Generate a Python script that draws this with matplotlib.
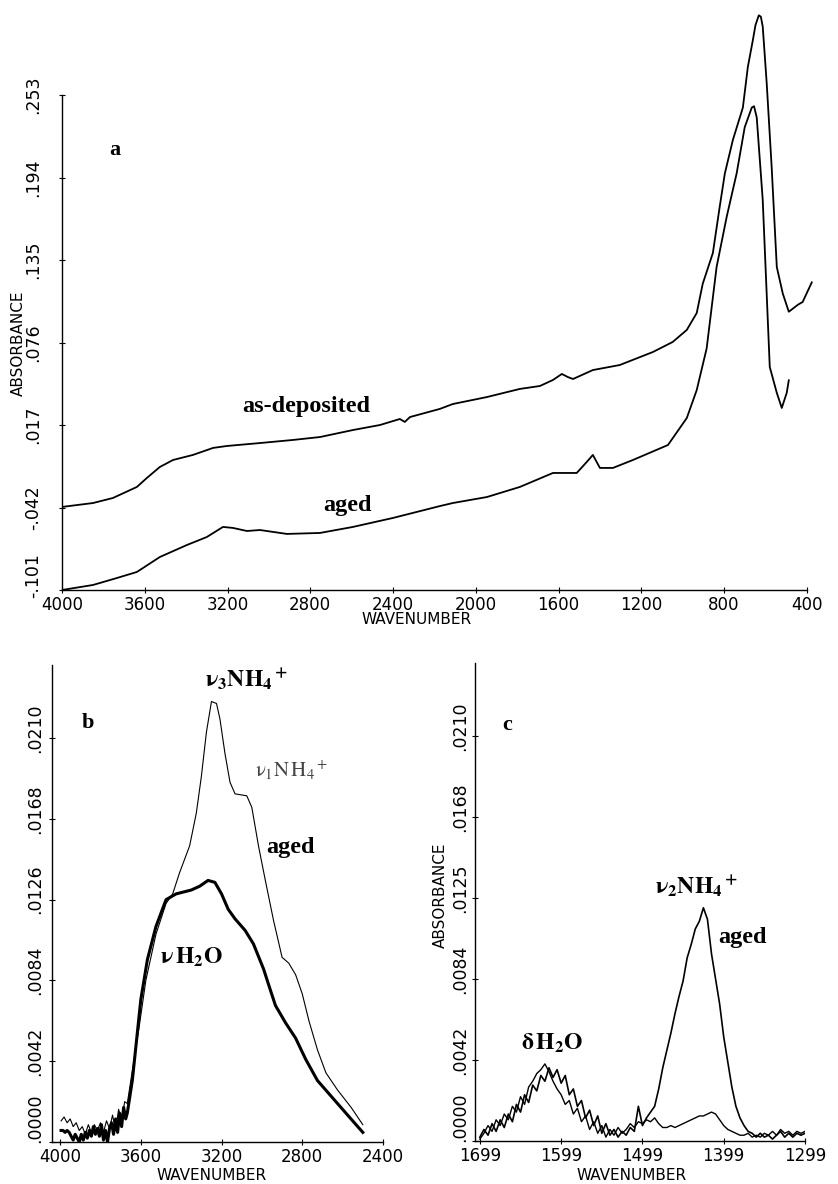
import numpy as np
import matplotlib
matplotlib.use("Agg")
import matplotlib.pyplot as plt
from matplotlib.transforms import ScaledTranslation

plt.rcParams['mathtext.fontset'] = 'stix'

W, H = 838, 1184

# ---------------- panel a : 4000-400 cm-1 ----------------
a_dep_wn = [4000, 3850, 3754, 3638, 3590, 3527, 3463, 3367, 3270, 3203,
            3043, 2884, 2753, 2594, 2463, 2367, 2343, 2318, 2174, 2111,
            1946, 1787, 1690, 1627, 1584, 1555, 1530, 1434, 1304, 1144,
            1048, 980, 932, 903, 854, 821, 796, 757, 709, 685,
            661, 648, 632, 622, 613, 594, 570, 545, 516, 487, 443, 420, 376]
a_dep_abs = [-0.0416, -0.0388, -0.0352, -0.0273, -0.0209, -0.0130, -0.0080, -0.0044, 0.0006, 0.0020,
             0.0041, 0.0063, 0.0084, 0.0134, 0.0170, 0.0213, 0.0192, 0.0227, 0.0285, 0.0320,
             0.0370, 0.0428, 0.0449, 0.0492, 0.0535, 0.0513, 0.0499, 0.0563, 0.0599, 0.0692,
             0.0764, 0.0850, 0.0971, 0.118, 0.140, 0.173, 0.197, 0.221, 0.244, 0.273,
             0.292, 0.303, 0.310, 0.309, 0.302, 0.262, 0.202, 0.130, 0.111, 0.098, 0.103, 0.105, 0.119]

a_aged_wn = [4000, 3850, 3734, 3638, 3527, 3396, 3300, 3222, 3174, 3106,
             3043, 2913, 2753, 2594, 2401, 2174, 2111, 1946, 1787, 1627,
             1512, 1464, 1434, 1400, 1337, 1240, 1071, 980, 932, 884,
             836, 787, 739, 700, 666, 655, 642, 613, 579, 545, 521, 497, 487]
a_aged_abs = [-0.101, -0.0974, -0.0924, -0.0881, -0.0774, -0.0688, -0.0631, -0.0559, -0.0566, -0.0588,
              -0.0581, -0.0609, -0.0602, -0.0559, -0.0495, -0.0410, -0.0388, -0.0345, -0.0273, -0.0173,
              -0.0173, -0.0095, -0.0044, -0.0137, -0.0137, -0.0080, 0.0027, 0.0220, 0.0420, 0.0718,
              0.130, 0.166, 0.197, 0.230, 0.244, 0.245, 0.237, 0.178, 0.0585, 0.040, 0.0292, 0.040, 0.049]

a_yticks = [-0.101, -0.042, 0.017, 0.076, 0.135, 0.194, 0.253]
a_ylabels = ['-.101', '-.042', '.017', '.076', '.135', '.194', '.253']
a_xticks = [4000, 3600, 3200, 2800, 2400, 2000, 1600, 1200, 800, 400]

# ---------------- panel b : O-H / N-H stretch ----------------
b_dep_wn = [3995, 3985, 3975, 3965, 3955, 3945, 3935, 3925, 3915, 3905,
            3895, 3885, 3875, 3865, 3855, 3845, 3835, 3825, 3815, 3805,
            3795, 3785, 3775, 3765, 3755, 3745, 3735, 3725, 3715, 3705,
            3695, 3685, 3675,
            3667, 3642, 3600, 3567, 3525, 3475, 3425, 3350, 3308, 3267,
            3233, 3200, 3167, 3133, 3083, 3042, 2992, 2958, 2933, 2883,
            2833, 2783, 2725, 2642, 2567, 2500]
b_dep_abs = [0.0006, 0.0006, 0.0005, 0.0006, 0.0005, 0.0003, 0.0001, 0.0004, 0.0002, 0.0000,
             0.0004, 0.0001, 0.0005, 0.0002, 0.0006, 0.0003, 0.0008, 0.0004, 0.0007, 0.0003,
             0.0009, 0.0001, 0.0006, 0.0000, 0.0007, 0.0010, 0.0004, 0.0012, 0.0005, 0.0015,
             0.0008, 0.0018, 0.0012,
             0.0015, 0.0032, 0.0074, 0.0095, 0.0112, 0.0126, 0.0129, 0.0131, 0.0133, 0.0136,
             0.0135, 0.0129, 0.0121, 0.0116, 0.0110, 0.0103, 0.0090, 0.0079, 0.0071, 0.0062,
             0.0054, 0.0043, 0.0032, 0.0022, 0.0013, 0.0005]

b_aged_wn = [3995, 3980, 3965, 3950, 3935, 3920, 3905, 3890, 3875, 3860,
             3845, 3830, 3815, 3800, 3785, 3770, 3755, 3740, 3725, 3710,
             3695, 3680,
             3667, 3642, 3608, 3575, 3525, 3475, 3442, 3408, 3358, 3325,
             3300, 3275, 3250, 3225, 3208, 3183, 3158, 3133, 3075, 3050,
             3017, 2983, 2942, 2900, 2867, 2833, 2800, 2767, 2725, 2683,
             2625, 2558, 2500]
b_aged_abs = [0.0011, 0.0013, 0.0010, 0.0012, 0.0008, 0.0010, 0.0006, 0.0008, 0.0004, 0.0009,
              0.0005, 0.0009, 0.0006, 0.0010, 0.0005, 0.0011, 0.0007, 0.0014, 0.0006, 0.0017,
              0.0011, 0.0021,
              0.0020, 0.0037, 0.0060, 0.0084, 0.0108, 0.0124, 0.0129, 0.0140, 0.0154, 0.0171,
              0.0190, 0.0213, 0.0229, 0.0228, 0.0220, 0.0202, 0.0187, 0.0181, 0.0180, 0.0174,
              0.0154, 0.0136, 0.0115, 0.0096, 0.0093, 0.0087, 0.0077, 0.0063, 0.0048, 0.0036,
              0.0027, 0.0018, 0.0009]

b_xticks = [4000, 3600, 3200, 2800, 2400]
bc_yticks = [0.0, 0.0042, 0.0084, 0.0126, 0.0168, 0.0210]
b_ylabels = ['.0000', '.0042', '.0084', '.0126', '.0168', '.0210']
c_ylabels = ['.0000', '.0042', '.0084', '.0125', '.0168', '.0210']

# ---------------- panel c : bending region ----------------
c_wn = np.arange(1699, 1298, -5)
c_aged_abs = [0.0002, 0.0006, 0.0003, 0.0009, 0.0005, 0.0011, 0.0007, 0.0014, 0.0010, 0.0019,
              0.0015, 0.0024, 0.0020, 0.0029, 0.0026, 0.0034, 0.0031, 0.0038, 0.0033, 0.0037,
              0.0030, 0.0034, 0.0024, 0.0027, 0.0018, 0.0021, 0.0012, 0.0016, 0.0008, 0.0013,
              0.0004, 0.0009, 0.0003, 0.0006, 0.0002, 0.0005, 0.0003, 0.0007, 0.0005, 0.0018,
              0.0008, 0.0012, 0.0015, 0.0018, 0.0027, 0.0038, 0.0047, 0.0056, 0.0066, 0.0075,
              0.0083, 0.0095, 0.0102, 0.0110, 0.0114, 0.0121, 0.0115, 0.0097, 0.0084, 0.0071,
              0.0054, 0.0041, 0.0028, 0.0018, 0.0012, 0.0008, 0.0005, 0.0004, 0.0002, 0.0004,
              0.0002, 0.0003, 0.0001, 0.0003, 0.0005, 0.0002, 0.0004, 0.0002, 0.0004, 0.0003,
              0.0004]
c_dep_abs = [0.0001, 0.0004, 0.0008, 0.0005, 0.0011, 0.0008, 0.0014, 0.0011, 0.0018, 0.0015,
             0.0023, 0.0019, 0.0028, 0.0031, 0.0035, 0.0037, 0.0040, 0.0036, 0.0031, 0.0027,
             0.0024, 0.0019, 0.0021, 0.0014, 0.0017, 0.0010, 0.0013, 0.0006, 0.0010, 0.0004,
             0.0008, 0.0002, 0.0006, 0.0003, 0.0007, 0.0004, 0.0006, 0.0009, 0.0007, 0.0010,
             0.0009, 0.0011, 0.0010, 0.0012, 0.0009, 0.0007, 0.0007, 0.0008, 0.0007, 0.0008,
             0.0009, 0.0010, 0.0011, 0.0012, 0.0013, 0.0013, 0.0014, 0.0015, 0.0014, 0.0011,
             0.0008, 0.0006, 0.0005, 0.0004, 0.0003, 0.0003, 0.0004, 0.0002, 0.0003, 0.0002,
             0.0004, 0.0003, 0.0005, 0.0003, 0.0006, 0.0004, 0.0005, 0.0003, 0.0005, 0.0004,
             0.0005]
c_xticks = [1699, 1599, 1499, 1399, 1299]


def fx(x):
    return x / W


def fy(y):
    return 1 - y / H


def style(ax, ylabpad, shifts):
    ax.spines['top'].set_visible(False)
    ax.spines['right'].set_visible(False)
    ax.tick_params(direction='inout', length=5, width=0.8)
    ax.tick_params(axis='x', pad=2, labelsize=12)
    ax.tick_params(axis='y', labelrotation=90, pad=ylabpad, labelsize=12.5)
    for s in ax.spines.values():
        s.set_linewidth(1.0)
    # plotter labels sit a little above their tick marks
    for t, dy in zip(ax.get_yticklabels(), shifts):
        t.set_va('center')
        t.set_transform(t.get_transform() + ScaledTranslation(0, dy / 100, fig.dpi_scale_trans))


serif = dict(family='Liberation Serif', weight='bold', color='black')

fig = plt.figure(figsize=(W / 100, H / 100), dpi=100)

# ---- a
ax = fig.add_axes([fx(62), fy(590), fx(813) - fx(62), fy(10) - fy(590)])
ax.plot(a_dep_wn, a_dep_abs, color='black', lw=1.3)
ax.plot(a_aged_wn, a_aged_abs, color='black', lw=1.3)
ax.set_xlim(4000, 370)
ax.set_ylim(-0.101, 0.3138)
ax.set_xticks(a_xticks)
ax.set_yticks(a_yticks, a_ylabels)
ax.spines['left'].set_bounds(-0.101, 0.253)
ax.spines['bottom'].set_bounds(4000, 400)
style(ax, 12, [14, 0, 0, 0, 0, 0, 0])
fig.text(fx(417), fy(620), 'WAVENUMBER', ha='center', va='center', fontsize=11)
fig.text(fx(18), fy(343), 'ABSORBANCE', ha='center', va='center', rotation=90, fontsize=11)
fig.text(fx(115), fy(150), 'a', ha='center', va='center', fontsize=16, **serif)
fig.text(fx(306), fy(406), 'as-deposited', ha='center', va='center', fontsize=17.5, **serif)
fig.text(fx(347), fy(505), 'aged', ha='center', va='center', fontsize=17.5, **serif)

# ---- b
ax = fig.add_axes([fx(52), fy(1142), fx(383) - fx(52), fy(665) - fy(1142)])
ax.plot(b_aged_wn, b_aged_abs, color='black', lw=0.8)
ax.plot(b_dep_wn, b_dep_abs, color='black', lw=2.2)
ax.set_xlim(4040, 2400)
ax.set_ylim(0, 0.0248)
ax.set_xticks(b_xticks)
ax.set_yticks(bc_yticks, b_ylabels)
style(ax, 3, [24, 10, 10, 10, 10, 10])
fig.text(fx(212), fy(1175), 'WAVENUMBER', ha='center', va='center', fontsize=11)
fig.text(fx(88), fy(723), 'b', ha='center', va='center', fontsize=16, **serif)
fig.text(fx(247), fy(680), r'$\mathbf{\nu_3NH_4{}^+}$', ha='center', va='center', fontsize=17)
fig.text(fx(292), fy(770), r'$\mathrm{\nu_1N\,H_4{}^+}$', ha='center', va='center',
         fontsize=15, color='#444444')
fig.text(fx(290), fy(848), 'aged', ha='center', va='center', fontsize=17.5, **serif)
fig.text(fx(191), fy(957), r'$\mathbf{\nu\,H_{2}O}$', ha='center', va='center', fontsize=17)

# ---- c
ax = fig.add_axes([fx(475), fy(1141), fx(805) - fx(475), fy(663) - fy(1141)])
ax.plot(c_wn, c_dep_abs, color='black', lw=1.0)
ax.plot(c_wn, c_aged_abs, color='black', lw=1.2)
ax.set_xlim(1705, 1299)
ax.set_ylim(0, 0.0248)
ax.set_xticks(c_xticks)
ax.set_yticks(bc_yticks, c_ylabels)
style(ax, 2, [24, 10, 10, 10, 10, 10])
fig.text(fx(632), fy(1175), 'WAVENUMBER', ha='center', va='center', fontsize=11)
fig.text(fx(440), fy(895), 'ABSORBANCE', ha='center', va='center', rotation=90, fontsize=11)
fig.text(fx(507), fy(725), 'c', ha='center', va='center', fontsize=16, **serif)
fig.text(fx(697), fy(887), r'$\mathbf{\nu_2NH_4{}^+}$', ha='center', va='center', fontsize=17)
fig.text(fx(742), fy(937), 'aged', ha='center', va='center', fontsize=17.5, **serif)
fig.text(fx(552), fy(1043), r'$\mathbf{\delta\,H_2O}$', ha='center', va='center', fontsize=17)

fig.savefig('out.png', dpi=100)
